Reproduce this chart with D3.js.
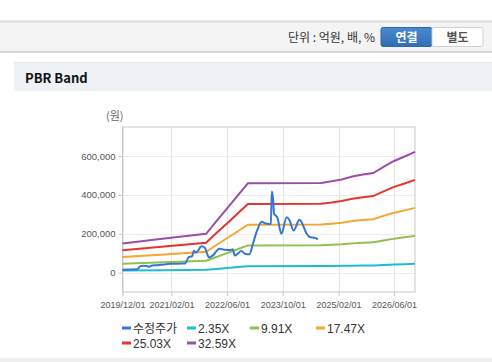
<!DOCTYPE html>
<html><head><meta charset="utf-8">
<script src="https://cdn.jsdelivr.net/npm/d3@7"></script>
<style>
html,body{margin:0;padding:0;background:#fff;}
svg{display:block;}
</style></head>
<body>
<svg id="c" width="492" height="362"></svg>
<script>
// ---- data ----
const xTickLabels = ["2019/12/01","2021/02/01","2022/06/01","2023/10/01","2025/02/01","2026/06/01"];
const yTicks = [0, 200000, 400000, 600000];

const priceDates = ["2019-12-01","2020-02-01","2020-04-10","2020-05-01","2020-06-01","2020-07-01","2020-07-20","2020-08-15","2020-10-01","2020-12-01","2021-02-01","2021-04-01","2021-06-01","2021-07-01","2021-08-01","2021-08-15","2021-09-01","2021-09-20","2021-10-20","2021-11-20","2021-12-10","2021-12-25","2022-02-01","2022-03-25","2022-05-10","2022-07-01","2022-07-20","2022-08-10","2022-09-01","2022-10-05","2022-11-05","2022-12-15","2023-01-15","2023-02-20","2023-04-01","2023-05-01","2023-06-05","2023-06-20","2023-06-28","2023-07-10","2023-07-18","2023-08-15","2023-09-20","2023-11-05","2023-11-28","2024-01-05","2024-02-25","2024-03-15","2024-04-28","2024-05-25","2024-07-10","2024-08-05"];
const priceValues = [15000,16000,17000,32000,35000,34000,30000,36000,38000,42000,45000,46000,47000,80000,84000,112000,104000,112000,136000,128000,97000,78000,90000,123000,118000,117000,120000,88000,96000,111000,97000,94000,150000,217000,262000,254000,250000,251000,418000,375000,303000,285000,200000,285000,272000,217000,272000,259000,200000,183000,179000,171000];

const bandDates = ["2019-12-01","2020-12-01","2021-12-01","2022-03-01","2022-06-01","2022-09-01","2022-12-01","2024-09-01","2024-12-01","2025-03-01","2025-06-01","2025-09-01","2025-12-01","2026-03-01","2026-06-01","2026-09-01","2026-12-01"];
const band235 = [10800,12600,14400,19100,23800,28500,33200,33300,33900,34600,35700,36400,37000,39300,41500,43100,44900];
const band991 = [45600,53200,60800,80600,100400,120100,139900,140500,142900,146000,150500,153600,156000,165700,174900,181900,189100];
const band1747 = [80400,93800,107200,142100,176900,211800,246600,247700,252000,257300,265400,270700,275000,292200,308300,320600,333500];
const band2503 = [115200,134400,153600,203500,253400,303400,353300,354800,361000,368600,380200,387800,394000,418600,441600,459300,477700];
const band3259 = [150000,175000,200000,265000,330000,395000,460000,462000,470000,480000,495000,505000,513000,545000,575000,598000,622000];

const seriesNames = ["수정주가","2.35X","9.91X","17.47X","25.03X","32.59X"];
const seriesColors = ["#3478d4","#1cbcd4","#8fc050","#f7a531","#e8332b","#9a4fa8"];

// ---- drawing ----
const parse = d3.timeParse("%Y-%m-%d");
const parseTick = d3.timeParse("%Y/%m/%d");
const svg = d3.select("#c");
const KR = "'Noto Sans CJK KR','Noto Sans',sans-serif";
const NUM = "'Liberation Sans',Arial,sans-serif";

// top unit bar
svg.append("rect").attr("x",0).attr("y",21).attr("width",492).attr("height",31).attr("fill","#f4f4f4");
svg.append("line").attr("x1",0).attr("x2",492).attr("y1",21.5).attr("y2",21.5).attr("stroke","#dcdcdc").attr("stroke-width",2);
svg.append("line").attr("x1",0).attr("x2",492).attr("y1",52).attr("y2",52).attr("stroke","#d8d8d8").attr("stroke-width",2);
svg.append("text").attr("x",375).attr("y",41.5).attr("text-anchor","end")
  .attr("font-family",KR).attr("font-size",12).attr("fill","#333").text("단위 : 억원, 배, %");
const grad = svg.append("defs").append("linearGradient").attr("id","bg").attr("x1",0).attr("x2",0).attr("y1",0).attr("y2",1);
grad.append("stop").attr("offset","0").attr("stop-color","#4a8ad0");
grad.append("stop").attr("offset","1").attr("stop-color","#2f6db4");
svg.append("rect").attr("x",381).attr("y",27.5).attr("width",51).attr("height",19).attr("rx",2).attr("fill","url(#bg)").attr("stroke","#2d69ad");
svg.append("rect").attr("x",432).attr("y",27.5).attr("width",51).attr("height",19).attr("rx",2).attr("fill","#fff").attr("stroke","#d0d0d0");
svg.append("text").attr("x",406.5).attr("y",41.5).attr("text-anchor","middle").attr("font-family",KR).attr("font-weight","bold").attr("font-size",12).attr("fill","#fff").text("연결");
svg.append("text").attr("x",457.5).attr("y",41.5).attr("text-anchor","middle").attr("font-family",KR).attr("font-weight","bold").attr("font-size",12).attr("fill","#555").text("별도");

// section header
svg.append("rect").attr("x",14).attr("y",62).attr("width",478).attr("height",29).attr("fill","#eef1f6");
svg.append("line").attr("x1",14).attr("x2",492).attr("y1",62.5).attr("y2",62.5).attr("stroke","#e2e6ee").attr("stroke-width",1);
svg.append("text").attr("x",25).attr("y",83).attr("font-family",KR).attr("font-weight","bold").attr("font-size",13).attr("fill","#111").text("PBR Band");

// bottom strip
svg.append("rect").attr("x",0).attr("y",358).attr("width",492).attr("height",4).attr("fill","#f0f0f0");

// scales
const L = 122.5, R = 415, T = 127, B = 292;
const x = d3.scaleTime().domain([parse("2019-12-01"), parse("2026-12-01")]).range([L, R]);
const y = d3.scaleLinear().domain([-100000, 750000]).range([B, T]);

// grid
const tickDates = xTickLabels.map(parseTick);
svg.append("g").selectAll("line").data(tickDates).join("line")
  .attr("x1",d=>Math.round(x(d))+0.5).attr("x2",d=>Math.round(x(d))+0.5).attr("y1",T).attr("y2",B)
  .attr("stroke","#e6e6e6");
svg.append("g").selectAll("line").data(yTicks).join("line")
  .attr("x1",L).attr("x2",R).attr("y1",d=>Math.round(y(d))+0.5).attr("y2",d=>Math.round(y(d))+0.5)
  .attr("stroke","#ececec");
svg.append("rect").attr("x",L).attr("y",T).attr("width",R-L).attr("height",B-T)
  .attr("fill","none").attr("stroke","#c8c8c8");

// axes
const yAxis = svg.append("g").attr("transform",`translate(${L},0)`)
  .call(d3.axisLeft(y).tickValues(yTicks).tickSize(4).tickPadding(3).tickFormat(d3.format(",")));
yAxis.select(".domain").remove();
yAxis.selectAll("line").attr("stroke","#c8c8c8");
yAxis.selectAll("text").attr("font-family",NUM).attr("font-size",9.5).attr("fill","#555");

const xAxis = svg.append("g").attr("transform",`translate(0,${B})`)
  .call(d3.axisBottom(x).tickValues(tickDates).tickSize(4).tickPadding(6).tickFormat(d3.timeFormat("%Y/%m/%d")));
xAxis.select(".domain").remove();
xAxis.selectAll("line").attr("stroke","#c8c8c8");
xAxis.selectAll("text").attr("font-family",NUM).attr("font-size",9).attr("fill","#555");

svg.append("text").attr("x",106).attr("y",120).attr("font-family",KR).attr("font-size",11).attr("fill","#666").text("(원)");

// lines
const line = d3.line().x(d=>x(d[0])).y(d=>y(d[1]));
const bandSets = [band235, band991, band1747, band2503, band3259];
const bd = bandDates.map(parse);
bandSets.forEach((vals,i)=>{
  svg.append("path").datum(vals.map((v,j)=>[bd[j],v])).attr("d",line)
    .attr("fill","none").attr("stroke",seriesColors[i+1]).attr("stroke-width",2);
});
const pd = priceDates.map(parse);
svg.append("path").datum(priceValues.map((v,j)=>[pd[j],v]))
  .attr("d",d3.line().x(d=>x(d[0])).y(d=>y(d[1])).curve(d3.curveMonotoneX))
  .attr("fill","none").attr("stroke",seriesColors[0]).attr("stroke-width",2);

// legend
const legPos = [[122,328],[187,328],[250,328],[316,328],[122,343],[187,343]];
const lg = svg.append("g");
seriesNames.forEach((n,i)=>{
  const [lx,ly] = legPos[i];
  lg.append("rect").attr("x",lx).attr("y",ly-1.5).attr("width",9).attr("height",3).attr("fill",seriesColors[i]);
  lg.append("text").attr("x",lx+11).attr("y",ly+4.5).attr("font-family",i===0?KR:NUM)
    .attr("font-size",12).attr("fill","#333").text(n);
});
</script>
</body></html>
